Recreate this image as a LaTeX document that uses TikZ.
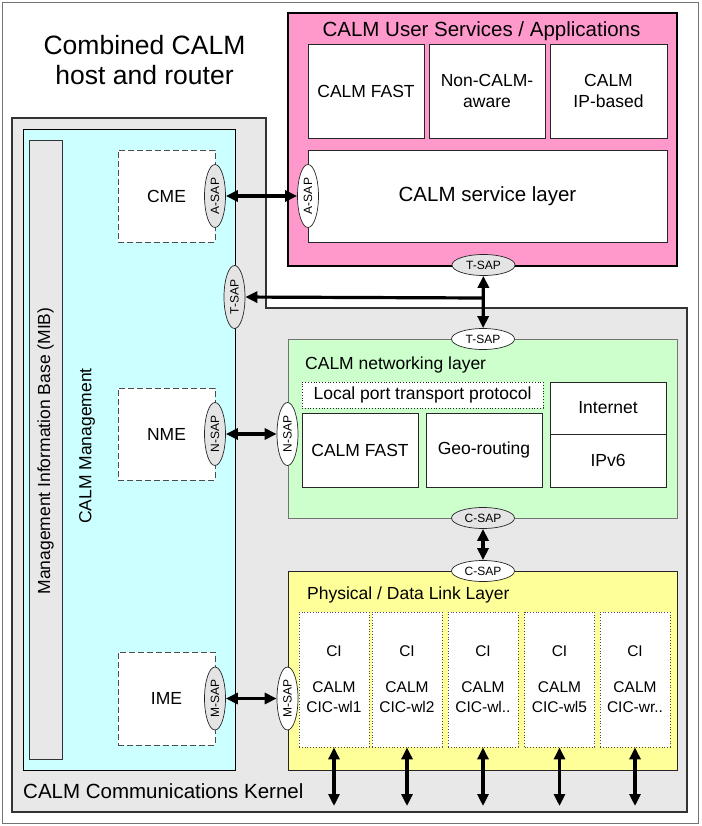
\documentclass[tikz,border=0pt]{standalone}
\usepackage{fontspec}
\setmainfont{Liberation Sans}
\usetikzlibrary{arrows.meta,shapes.geometric}
\definecolor{pinkc}{HTML}{FF99CC}
\definecolor{cyanc}{HTML}{CCFFFF}
\definecolor{greenc}{HTML}{CCFFCC}
\definecolor{yellowc}{HTML}{FFFF99}
\definecolor{kgray}{HTML}{E8E8E8}
\definecolor{sapgray}{HTML}{E4E4E4}
\begin{document}
\begin{tikzpicture}[x=1pt,y=-1pt,
  box/.style={draw=black!85, fill=white, line width=0.8pt, inner sep=0pt, align=center,
    font=\fontsize{17.5}{21}\selectfont},
  mgmtbox/.style={draw=black!70, dash pattern=on 6pt off 3pt, fill=white, line width=0.8pt,
    minimum width=97pt, minimum height=92pt, inner sep=0pt, font=\fontsize{17.5}{21}\selectfont},
  cibox/.style={draw=black!70, dotted, fill=white, line width=0.8pt, minimum width=70pt,
    minimum height=135pt, inner sep=0pt, align=center, font=\fontsize{15.5}{20}\selectfont},
  saph/.style={ellipse, draw=black!85, line width=0.7pt, fill=white, minimum width=63pt,
    minimum height=21pt, inner sep=0pt, font=\fontsize{12}{12}\selectfont},
  sapv/.style={saph, rotate=90},
  sapg/.style={fill=sapgray},
  conn/.style={line width=3.2pt, {Triangle[length=12pt,width=11pt]}-{Triangle[length=12pt,width=11pt]}},
  oneway/.style={line width=3.2pt, -{Triangle[length=12pt,width=11pt]}},
  lbl/.style={inner sep=0pt, font=\fontsize{17.5}{21}\selectfont},
  biglbl/.style={inner sep=0pt, font=\fontsize{20.5}{24}\selectfont}
]
\useasboundingbox (0,0) rectangle (701,826);
% outer frame
\draw[draw=black!55, line width=1.2pt, fill=white] (2.5,2.5) rectangle (698.5,823.5);
% communications kernel
\draw[draw=black!80, line width=1.2pt, fill=kgray]
  (12,118) -- (266,118) -- (266,308) -- (687,308) -- (687,812) -- (12,812) -- cycle;
% CALM management
\draw[draw=black, line width=0.8pt, fill=cyanc] (23,129) rectangle (235,770);
\draw[draw=black!80, line width=0.8pt, fill=kgray] (29,140) rectangle (62,759);
\node[lbl, rotate=90] (mib) at (45.5,451) {Management Information Base (MIB)};
\node[lbl, rotate=90] (mgmt) at (87,446) {CALM Management};
\node[mgmtbox] (cme) at (166.5,196) {CME};
\node[mgmtbox] (nme) at (166.5,434) {NME};
\node[mgmtbox, minimum height=93pt] (ime) at (166.5,698.5) {IME};
% title
\node[align=center, inner sep=0pt, font=\fontsize{26.5}{30}\selectfont] (title) at (144.5,60)
  {Combined CALM\\host and router};
\node[biglbl, anchor=west] (kern) at (23,791) {CALM Communications Kernel};
% user services
\draw[draw=black, line width=1.6pt, fill=pinkc] (288,13) rectangle (677,266);
\node[biglbl] (uslbl) at (481.5,31) {CALM User Services / Applications};
\node[box, minimum width=116pt, minimum height=94pt] (fast1) at (366,91) {CALM FAST};
\node[box, minimum width=116pt, minimum height=94pt] (ncal) at (487,91) {Non-CALM-\\aware};
\node[box, minimum width=117pt, minimum height=94pt] (ipb) at (608.5,91) {CALM\\IP-based};
\node[box, minimum width=359pt, minimum height=92pt, font=\fontsize{20.5}{24}\selectfont] (serv) at (487.5,196) {CALM service layer};
% networking layer
\draw[draw=black!55, line width=0.9pt, fill=greenc] (288,339) rectangle (677,518);
\node[lbl, anchor=west] (netlbl) at (305,365) {CALM networking layer};
\node[box, dotted, minimum width=241pt, minimum height=26pt] (lptp) at (422.5,395) {Local port transport protocol};
\node[box, minimum width=116pt, minimum height=74pt] (fast2) at (360,450) {CALM FAST};
\node[box, minimum width=116pt, minimum height=74pt] (geo) at (484,450) {Geo-routing};
\node[box, minimum width=116pt, minimum height=52pt] (inet) at (608,408) {Internet};
\node[box, minimum width=116pt, minimum height=53pt] (ipv6) at (608,460.5) {IPv6};
% physical layer
\draw[draw=black!85, line width=0.9pt, fill=yellowc] (288,571) rectangle (677,770);
\node[lbl, anchor=west] (phylbl) at (307,595) {Physical / Data Link Layer};
\node[cibox] (ci1) at (334,679.5) {CI\\[16pt]CALM\\CIC-wl1};
\node[cibox] (ci2) at (407,679.5) {CI\\[16pt]CALM\\CIC-wl2};
\node[cibox] (ci3) at (483,679.5) {CI\\[16pt]CALM\\CIC-wl..};
\node[cibox] (ci4) at (559.5,679.5) {CI\\[16pt]CALM\\CIC-wl5};
\node[cibox] (ci5) at (635,679.5) {CI\\[16pt]CALM\\CIC-wr..};
% SAPs
\node[sapv, sapg] (asapL) at (215,196) {A-SAP};
\node[sapv] (asapR) at (308,196) {A-SAP};
\node[sapv, sapg] (tsapL) at (234.5,297) {T-SAP};
\node[sapv, sapg] (nsapL) at (215,434) {N-SAP};
\node[sapv] (nsapR) at (287.5,434) {N-SAP};
\node[sapv, sapg] (msapL) at (215,698.5) {M-SAP};
\node[sapv] (msapR) at (287.5,698.5) {M-SAP};
\node[saph, sapg] (tsapP) at (483.5,265) {T-SAP};
\node[saph] (tsapN) at (483,339) {T-SAP};
\node[saph, sapg] (csapN) at (483,518) {C-SAP};
\node[saph] (csapY) at (483,571) {C-SAP};
% connectors
\draw[conn] (asapL) -- (asapR);
\draw[conn] (nsapL) -- (nsapR);
\draw[conn] (msapL) -- (msapR);
\draw[conn] (tsapP) -- (tsapN);
\coordinate (j) at (483.2,298);
\draw[oneway] (j) -- (tsapL);
\draw[conn] (csapN) -- (csapY);
\foreach \i/\x in {1/334,2/407,3/483,4/559.5,5/635} {
  \coordinate (b\i) at (\x,806);
  \draw[conn] (ci\i.south) -- (b\i);
}
\end{tikzpicture}
\end{document}
